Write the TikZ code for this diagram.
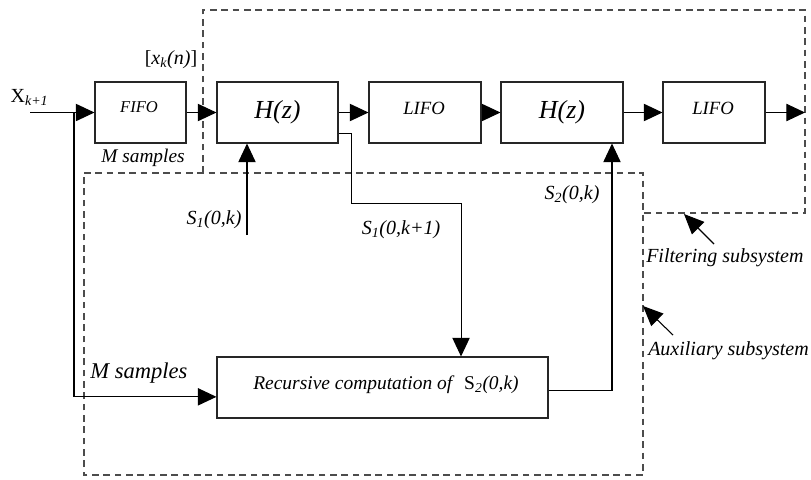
\documentclass[tikz,border=0pt]{standalone}
\usepackage{fontspec}
\setmainfont{Liberation Serif}
\usetikzlibrary{arrows.meta,calc}
\newcommand{\fsz}[1]{\fontsize{#1}{#1}\selectfont}
\tikzset{
  blk/.style={draw=black!85,line width=0.8pt,minimum height=45.75pt,inner sep=0pt},
  arr/.style={line width=0.8pt,-{Triangle[length=14pt,width=13pt]}},
  ln/.style={line width=0.8pt},
  dsh/.style={draw=black!70,line width=0.8pt,dash pattern=on 5pt off 3.5pt},
  txt/.style={inner sep=0pt,font=\fsz{15pt}\itshape},
}
\begin{document}
\begin{tikzpicture}[x=0.75pt,y=-0.75pt]
\useasboundingbox (0,0) rectangle (811,479);
% dashed subsystems
\draw[dsh] (203,173) -- (203,10) -- (805,10) -- (805,213) -- (643,213);
\draw[dsh] (84,173) -- (643,173) -- (643,475) -- (84,475) -- cycle;
% blocks
\node[blk,minimum width=68.25pt] (fifo) at (140.5,112.5) {};
\node[blk,minimum width=90.75pt,font=\fsz{19.5pt}\itshape] (h1) at (277.5,112.5) {H(z)};
\node[blk,minimum width=84pt] (lifo1) at (425,112.5) {};
\node[blk,minimum width=91.5pt,font=\fsz{19.5pt}\itshape] (h2) at (562,112.5) {H(z)};
\node[blk,minimum width=76.5pt] (lifo2) at (714,112.5) {};
\node[blk,minimum width=248.25pt] (rec) at (382.5,387.5) {};
\node[inner sep=0pt,font=\fsz{12.4pt}\itshape] (tfifo) at (139,107.5) {FIFO};
\node[inner sep=0pt,font=\fsz{14pt}\itshape] (tlifo1) at (424,108) {LIFO};
\node[inner sep=0pt,font=\fsz{14pt}\itshape] (tlifo2) at (713,108) {LIFO};
\node[inner sep=0pt,font=\fsz{14.6pt}] (trec) at (386,385) {\textit{Recursive computation of}\ \ S\textsubscript{\textit{2}}\textit{(0,k)}};
% coordinates
\coordinate (xin) at (30,112.5);
\coordinate (br) at (74,112.5);
\coordinate (fout) at (805,112.5);
\coordinate (s1k) at (247,235);
% main chain
\draw[arr] (xin) -- (fifo.west);
\draw[arr] (fifo.east) -- (h1.west);
\draw[arr] (h1.east) -- (lifo1.west);
\draw[arr] (lifo1.east) -- (h2.west);
\draw[arr] (h2.east) -- (lifo2.west);
\draw[arr] (lifo2.east) -- (fout);
% branch to recursive computation
\draw[arr] (br) |- ([yshift=-7pt]rec.west);
% S1(0,k) input
\draw[arr] (s1k) -- (s1k |- h1.south);
% H1 output to recursive
\draw[arr] ([yshift=-15.4pt]h1.east) -- ++(13,0) -- ++(0,70) -| ([xshift=58.9pt]rec.north);
% recursive output to H2
\draw[arr] ([yshift=-2pt]rec.east) -| ([xshift=37.5pt]h2.south);
% annotation arrows
\coordinate (fa) at (714,244);
\coordinate (ft) at (684,214);
\coordinate (aa) at (673,335);
\coordinate (at) at (643,306);
\draw[line width=0.8pt,-{Triangle[length=15pt,width=13pt]}] (fa) -- (ft);
\draw[line width=0.8pt,-{Triangle[length=15pt,width=13pt]}] (aa) -- (at);
% labels
\node[inner sep=0pt,font=\fsz{15pt}] (lx) at (29.5,97) {X\textsubscript{\textit{k+1}}};
\node[inner sep=0pt,font=\fsz{15pt}] (lxk) at (171,60) {[\textit{x\textsubscript{k}(n)}]};
\node[inner sep=0pt,font=\fsz{14.5pt}\itshape] (lm1) at (143,158) {M samples};
\node[inner sep=0pt,font=\fsz{16.9pt}\itshape] (lm2) at (139,373) {M samples};
\node[txt] (ls1k) at (214,220) {S\textsubscript{1}(0,k)};
\node[txt] (ls1k1) at (401,230) {S\textsubscript{1}(0,k+1)};
\node[txt] (ls2k) at (572,195) {S\textsubscript{2}(0,k)};
\node[txt,anchor=base west] (lfilt) at (646,262) {Filtering subsystem};
\node[txt,anchor=base west] (laux) at (648,355) {Auxiliary subsystem};
\end{tikzpicture}
\end{document}
